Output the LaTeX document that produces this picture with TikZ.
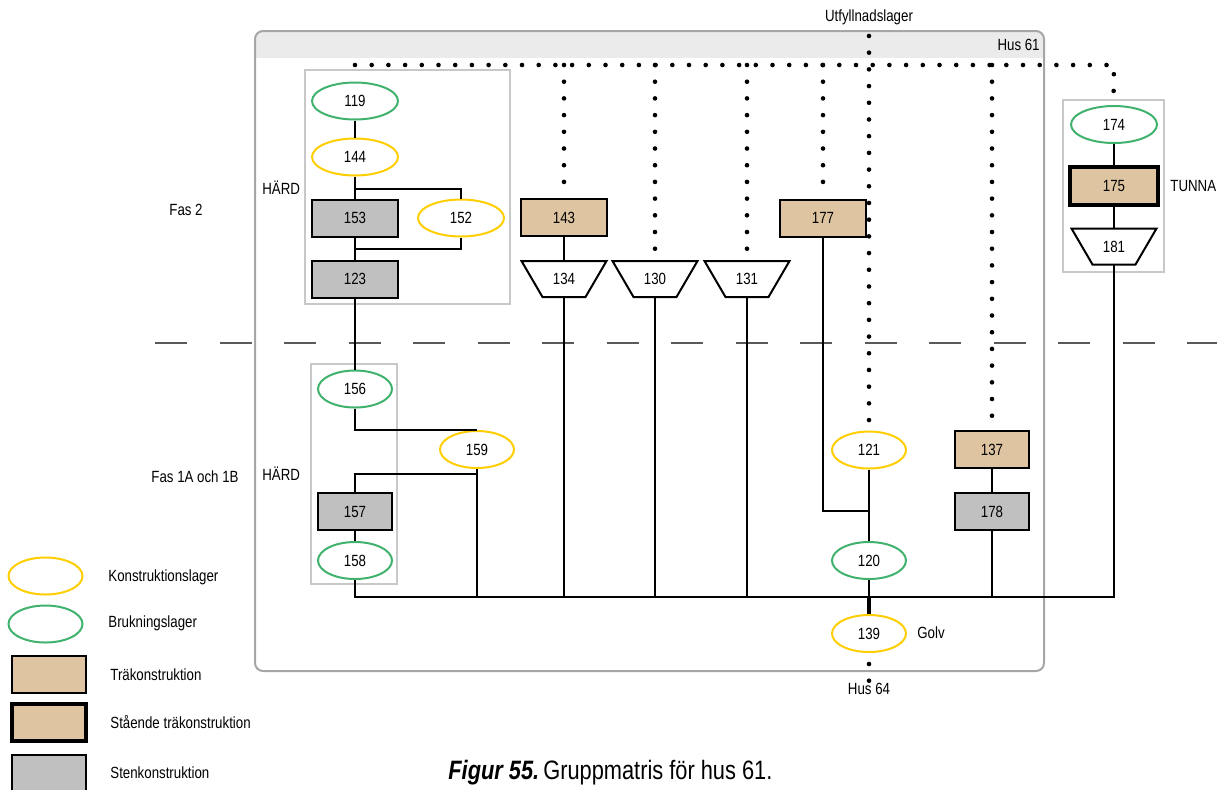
\documentclass[tikz,border=0pt]{standalone}
\usepackage{fontspec}
\setmainfont{Liberation Sans}[FakeStretch=0.82]
\usetikzlibrary{shapes.geometric,calc}
\definecolor{cyel}{RGB}{255,206,0}
\definecolor{cgreen}{RGB}{64,178,110}
\definecolor{ctan}{RGB}{222,196,160}
\definecolor{cgray}{RGB}{192,192,192}
\definecolor{cbox}{RGB}{166,166,166}
\definecolor{cgrp}{RGB}{200,200,200}
\definecolor{chdr}{RGB}{235,235,235}
\definecolor{cdash}{RGB}{90,90,90}
\newcommand\trapez[4]{%
  \draw[line width=1pt, fill=white] (#2-42.5,#3-18) -- (#2+42.5,#3-18) -- (#2+21.5,#3+18) -- (#2-21.5,#3+18) -- cycle;
  \node[lbl, minimum width=21.5pt, minimum height=18pt] (#1) at (#2,#3) {#4};}
\begin{document}
\begin{tikzpicture}[x=0.5pt,y=-0.5pt,
 lbl/.style={font=\fontsize{8.1}{9.7}\selectfont, inner sep=0pt, text=black},
 conn/.style={line width=1pt, black},
 dots/.style={line width=2.3pt, line cap=round, dash pattern=on 0pt off 8.35pt},
 lay/.style={ellipse, lbl, fill=white, line width=1pt, minimum height=18.5pt},
 kl/.style={lay, draw=cyel},
 bl/.style={lay, draw=cgreen},
 wide/.style={minimum width=43pt},
 narrow/.style={minimum width=37pt},
 blk/.style={rectangle, lbl, draw=black, line width=1pt, minimum height=18.5pt},
 tra/.style={blk, fill=ctan},
 sten/.style={blk, fill=cgray},
 stand/.style={blk, fill=ctan, line width=2pt},
 grp/.style={rectangle, draw=cgrp, line width=0.8pt, inner sep=0pt},
]
\useasboundingbox (0,0) rectangle (1225,789);
% Hus 61 frame
\begin{scope}
\clip[rounded corners=4pt] (255,31) rectangle (1044,671);
\fill[chdr] (255,31) rectangle (1044,58);
\end{scope}
\draw[cbox, line width=1pt, rounded corners=4pt] (255,31) rectangle (1044,671);
\node[lbl, anchor=east] (hus61) at (1040,45) {Hus 61};
% phase divider
\draw[cdash, line width=0.75pt, dash pattern=on 16pt off 16.25pt] (155,343) -- (1217,343);
% group boxes
\node[grp, minimum width=102.5pt, minimum height=117pt] (g1) at (407.5,187) {};
\node[grp, minimum width=43pt, minimum height=110pt] (g2) at (354,474) {};
\node[grp, minimum width=50.5pt, minimum height=86pt] (g3) at (1113.5,186) {};
% nodes
\node[bl, wide] (n119) at (355,101) {119};
\node[kl, wide] (n144) at (355,157) {144};
\node[sten, wide] (n153) at (355,218) {153};
\node[kl, wide] (n152) at (461,218) {152};
\node[sten, wide] (n123) at (355,279) {123};
\node[tra, wide] (n143) at (564,217.5) {143};
\trapez{t134}{564}{279}{134}
\trapez{t130}{655}{279}{130}
\trapez{t131}{747}{279}{131}
\node[tra, wide] (n177) at (823,218) {177};
\node[bl, wide] (n174) at (1114,124.5) {174};
\node[stand, minimum width=44pt, minimum height=19pt] (n175) at (1114,185.5) {175};
\trapez{t181}{1114}{246.5}{181}
\node[bl, narrow] (n156) at (355,389) {156};
\node[kl, narrow] (n159) at (477,449.5) {159};
\node[sten, narrow] (n157) at (355,511.5) {157};
\node[bl, narrow] (n158) at (355,560.5) {158};
\node[kl, narrow] (n121) at (869,450) {121};
\node[tra, narrow] (n137) at (992,449.5) {137};
\node[sten, narrow] (n178) at (992,511.5) {178};
\node[bl, narrow] (n120) at (869,560.5) {120};
\node[kl, narrow] (n139) at (869,633.5) {139};
% labels
\node[lbl, anchor=west] (hard1) at (262,188) {HÄRD};
\node[lbl, anchor=west] (hard2) at (262,474) {HÄRD};
\node[lbl] (fas2) at (186,210) {Fas 2};
\node[lbl] (fas1) at (195,477) {Fas 1A och 1B};
\node[lbl, anchor=west] (tunna) at (1170,186) {TUNNA};
\node[lbl, anchor=west] (golv) at (917,633) {Golv};
\node[lbl] (utf) at (869,17) {Utfyllnadslager};
\node[lbl] (hus64) at (869,689) {Hus 64};
% coordinates
\coordinate (top) at (0,65);
\coordinate (bus) at (0,597);
\coordinate (busR) at (1114,597);
% dotted relations
\draw[dots] (355,65) -- (1114,65) -- (g3.north);
\draw[dots] (n143.north |- top) -- (n143.north);
\draw[dots] (t130.north |- top) -- (t130.north);
\draw[dots] (t131.north |- top) -- (t131.north);
\draw[dots] (n177.north |- top) -- (n177.north);
\draw[dots] ($(utf.south)+(0,11)$) -- (n121.north);
\draw[dots] (n137.north |- top) -- (n137.north);
\draw[dots] ($(n139.south)+(0,11)$) -- ($(n139.south)+(0,28)$);
% connectors
\draw[conn] (n119) -- (n144);
\draw[conn] (n144) -- (n153);
\draw[conn] ($(n144.south)!0.55!(n153.north)$) -| (n152.north);
\draw[conn] (n152.south) |- ($(n153.south)!0.5!(n123.north)$);
\draw[conn] (n153) -- (n123);
\draw[conn] (n123) -- (n156);
\draw[conn] (n156.south) |- (n159.north);
\draw[conn] ($(n159.south)+(0,5)$) -| (n157.north);
\draw[conn] (n159.south) -- (n159.south |- bus);
\draw[conn] (n157) -- (n158);
\draw[conn] (n158.south) |- (busR) -- (t181.south);
\draw[conn] (n143) -- (t134.north);
\draw[conn] (t134.south) -- (t134.south |- bus);
\draw[conn] (t130.south) -- (t130.south |- bus);
\draw[conn] (t131.south) -- (t131.south |- bus);
\draw[conn] (n177.south) |- ($(n121.south)!0.58!(n120.north)$);
\draw[conn] (n121) -- (n120);
\draw[conn] (n120.south) -- (n120.south |- bus);
\draw[line width=2pt] (n139.north |- bus) -- (n139.north);
\draw[conn] (n137) -- (n178);
\draw[conn] (n178.south) -- (n178.south |- bus);
\draw[conn] (n174) -- (n175);
\draw[conn] (n175) -- (t181.north);
% legend
\node[kl, narrow] (lk) at (45.5,576) {};
\node[bl, narrow] (lb) at (45.5,624) {};
\node[tra, narrow] (lt) at (49,674.5) {};
\node[stand, narrow] (ls) at (49,722.5) {};
\node[sten, narrow] (lst) at (49,773.5) {};
\node[lbl, anchor=west] (lkt) at (108,577) {Konstruktionslager};
\node[lbl, anchor=west] (lbt) at (108,623) {Brukningslager};
\node[lbl, anchor=west] (ltt) at (110,675) {Träkonstruktion};
\node[lbl, anchor=west] (lst2) at (110,722) {Stående träkonstruktion};
\node[lbl, anchor=west] (lstt) at (110,773) {Stenkonstruktion};
% caption
\node[lbl, anchor=west, font=\fontsize{13.3}{16}\selectfont] (cap) at (448,773) {\textbf{\textit{Figur 55.}}\hspace{0.15em}Gruppmatris för hus 61.};
\end{tikzpicture}
\end{document}
